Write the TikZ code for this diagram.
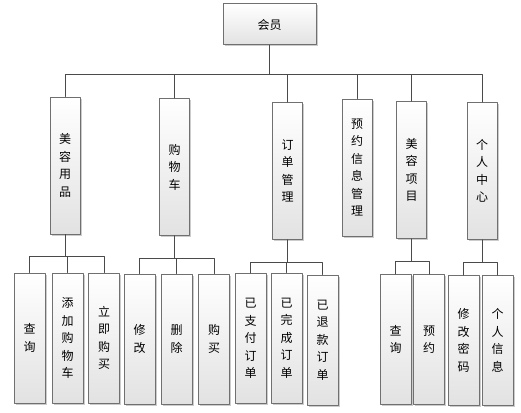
\documentclass[tikz,border=0pt]{standalone}
\usepackage{fontspec}
\newfontfamily\cjk{Noto Sans CJK SC}
\usetikzlibrary{shadows}
\definecolor{boxline}{HTML}{707070}
\definecolor{wire}{HTML}{4A4A4A}
\definecolor{boxbot}{HTML}{E2E2E2}
\def\boxw{30pt}
\def\midh{137pt}
\def\leafh{130pt}
\def\drop{22}

\tikzset{
  item/.style={draw=boxline, line width=1pt, top color=white, bottom color=boxbot,
    drop shadow={shadow xshift=1.5pt, shadow yshift=-1.5pt, fill=black!25, opacity=0.8},
    inner sep=0pt, align=center, minimum width=\boxw,
    font=\cjk\fontsize{12}{17.5}\selectfont},
  mid/.style={item, minimum height=\midh},
  leaf/.style={item, minimum width=31pt, minimum height=\leafh},
  wire/.style={draw=wire, line width=1pt}
}

\begin{document}
\begin{tikzpicture}[x=1pt, y=-1pt, line cap=round, line join=round]
		\useasboundingbox (0,0) rectangle (521,412);
		
		% Root
		\node[item, minimum width=93pt, minimum height=41pt] (root) at (269.5,24.5) {会员};
		\coordinate (bus) at (0,74);
		
		% Modules
		\foreach \name/\x/\y/\txt in {A/65/165.5/{美\\容\\用\\品}, B/174.5/167/{购\\物\\车},
			C/287.5/171/{订\\单\\管\\理}, D/357/167.5/{预\\约\\信\\息\\管\\理},
			E/411.5/170/{美\\容\\项\\目}, F/482/171/{个\\人\\中\\心}} {
			\node[mid] (\name) at (\x,\y) {\txt};
			\draw[wire] (root.south) -- (root.south |- bus) -| (\name.north);
		}
		
		% Functions
		\foreach \p/\name/\x/\y/\txt in {A/A1/29.5/338/{查\\询}, A/A2/67.5/338/{添\\加\\购\\物\\车},
			A/A3/104/338/{立\\即\\购\\买},
			B/B1/139.5/339/{修\\改}, B/B2/176.5/339/{删\\除}, B/B3/214/339/{购\\买},
			C/C1/250.5/338.5/{已\\支\\付\\订\\单}, C/C2/286.5/338/{已\\完\\成\\订\\单},
			C/C3/322.5/340/{已\\退\\款\\订\\单},
			E/E1/395.5/339.5/{查\\询}, E/E2/429/339.5/{预\\约},
			F/F1/463.5/340.5/{修\\改\\密\\码}, F/F2/497.5/340.5/{个\\人\\信\\息}} {
			\node[leaf] (\name) at (\x,\y) {\txt};
			\draw[wire] (\p.south) -- ++(0,\drop) -| (\name.north);
		}
	\end{tikzpicture}
\end{document}
